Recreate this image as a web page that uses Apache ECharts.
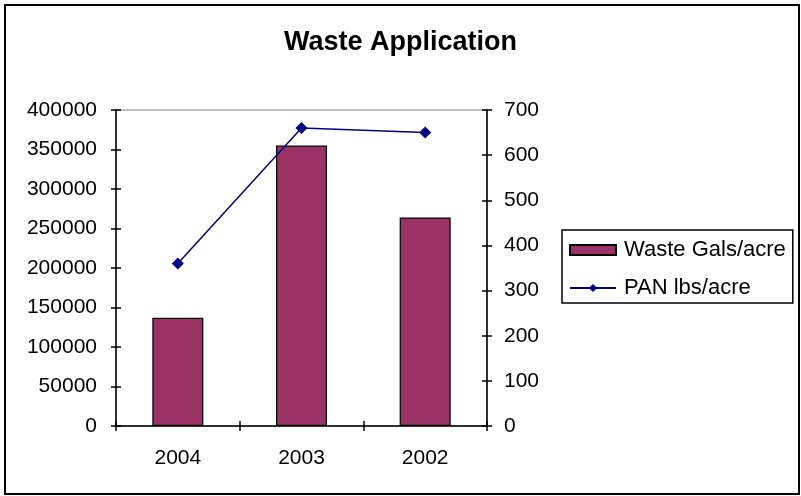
<!DOCTYPE html>
<html>
<head>
<meta charset="utf-8">
<script src="https://cdn.jsdelivr.net/npm/echarts@6/dist/echarts.min.js"></script>
<style>
html,body{margin:0;padding:0;background:#fff;}
#chart{width:801px;height:496px;}
</style>
</head>
<body>
<div id="chart"></div>
<script>
const categories = ['2004', '2003', '2002'];
const wasteGals = [137000, 355000, 264000];
const panLbs = [360, 660, 650];
const leftAxisMin = 0, leftAxisMax = 400000, leftAxisStep = 50000;
const rightAxisMin = 0, rightAxisMax = 700, rightAxisStep = 100;
const seriesNames = ['Waste Gals/acre', 'PAN lbs/acre'];
const titleText = 'Waste Application';

const FONT = 'Arial, "Liberation Sans", sans-serif';
const labelStyle = { color: '#000', fontSize: 21, fontFamily: FONT };

function valAxis(pos, min, max, step, main) {
  return {
    type: 'value', position: pos, min: min, max: max, interval: step,
    axisLine: { show: main, onZero: false, lineStyle: { color: '#000', width: 1.5 } },
    axisTick: { show: true, inside: !main, length: 5, lineStyle: { color: '#000', width: 1.5 } },
    axisLabel: Object.assign({
      show: main, margin: pos === 'left' ? 19 : 17,
      formatter: function (v) { return String(v); }
    }, labelStyle),
    splitLine: { show: false }
  };
}

const chart = echarts.init(document.getElementById('chart'), null, { renderer: 'canvas' });
chart.setOption({
  backgroundColor: '#fff',
  animation: false,
  title: {
    text: titleText, left: 'center', top: 24,
    textStyle: { color: '#000', fontSize: 27, fontWeight: 'bold', fontFamily: FONT }
  },
  graphic: [{
    type: 'rect', shape: { x: 5, y: 5, width: 794, height: 489 },
    style: { fill: 'none', stroke: '#000', lineWidth: 2 }, z: 100
  }],
  legend: {
    orient: 'vertical', left: 562, top: 230,
    padding: [9, 7, 4, 7], itemGap: 16,
    itemWidth: 46, itemHeight: 10,
    borderColor: '#000', borderWidth: 1.5,
    textStyle: { color: '#000', fontSize: 22, fontFamily: FONT, lineHeight: 22, padding: [0, 0, 0, 3] },
    data: [
      { name: seriesNames[0], icon: 'rect' },
      { name: seriesNames[1] }
    ]
  },
  grid: {
    left: 116, right: 314, top: 110, bottom: 70,
    show: true, borderColor: '#808080', borderWidth: 1, backgroundColor: 'transparent'
  },
  xAxis: [{
    type: 'category', data: categories, position: 'bottom',
    axisLine: { lineStyle: { color: '#000', width: 1.5 } },
    axisTick: { show: true, length: 5, lineStyle: { color: '#000', width: 1.5 } },
    axisLabel: Object.assign({ margin: 22 }, labelStyle)
  }, {
    type: 'category', data: categories, position: 'bottom',
    axisLine: { show: false },
    axisTick: { show: true, inside: true, length: 5, lineStyle: { color: '#000', width: 1.5 } },
    axisLabel: { show: false }
  }],
  yAxis: [
    valAxis('left', leftAxisMin, leftAxisMax, leftAxisStep, true),
    valAxis('right', rightAxisMin, rightAxisMax, rightAxisStep, true),
    valAxis('left', leftAxisMin, leftAxisMax, leftAxisStep, false),
    valAxis('right', rightAxisMin, rightAxisMax, rightAxisStep, false)
  ],
  series: [{
    name: seriesNames[0], type: 'bar', data: wasteGals,
    xAxisIndex: 0, yAxisIndex: 0, barWidth: 51,
    itemStyle: { color: '#993366', borderColor: '#000', borderWidth: 1.2 }
  }, {
    name: seriesNames[1], type: 'line', data: panLbs,
    xAxisIndex: 0, yAxisIndex: 1,
    symbol: 'diamond', symbolSize: 12,
    lineStyle: { color: '#000080', width: 1.5 },
    itemStyle: { color: '#000080' }
  }]
});
</script>
</body>
</html>
